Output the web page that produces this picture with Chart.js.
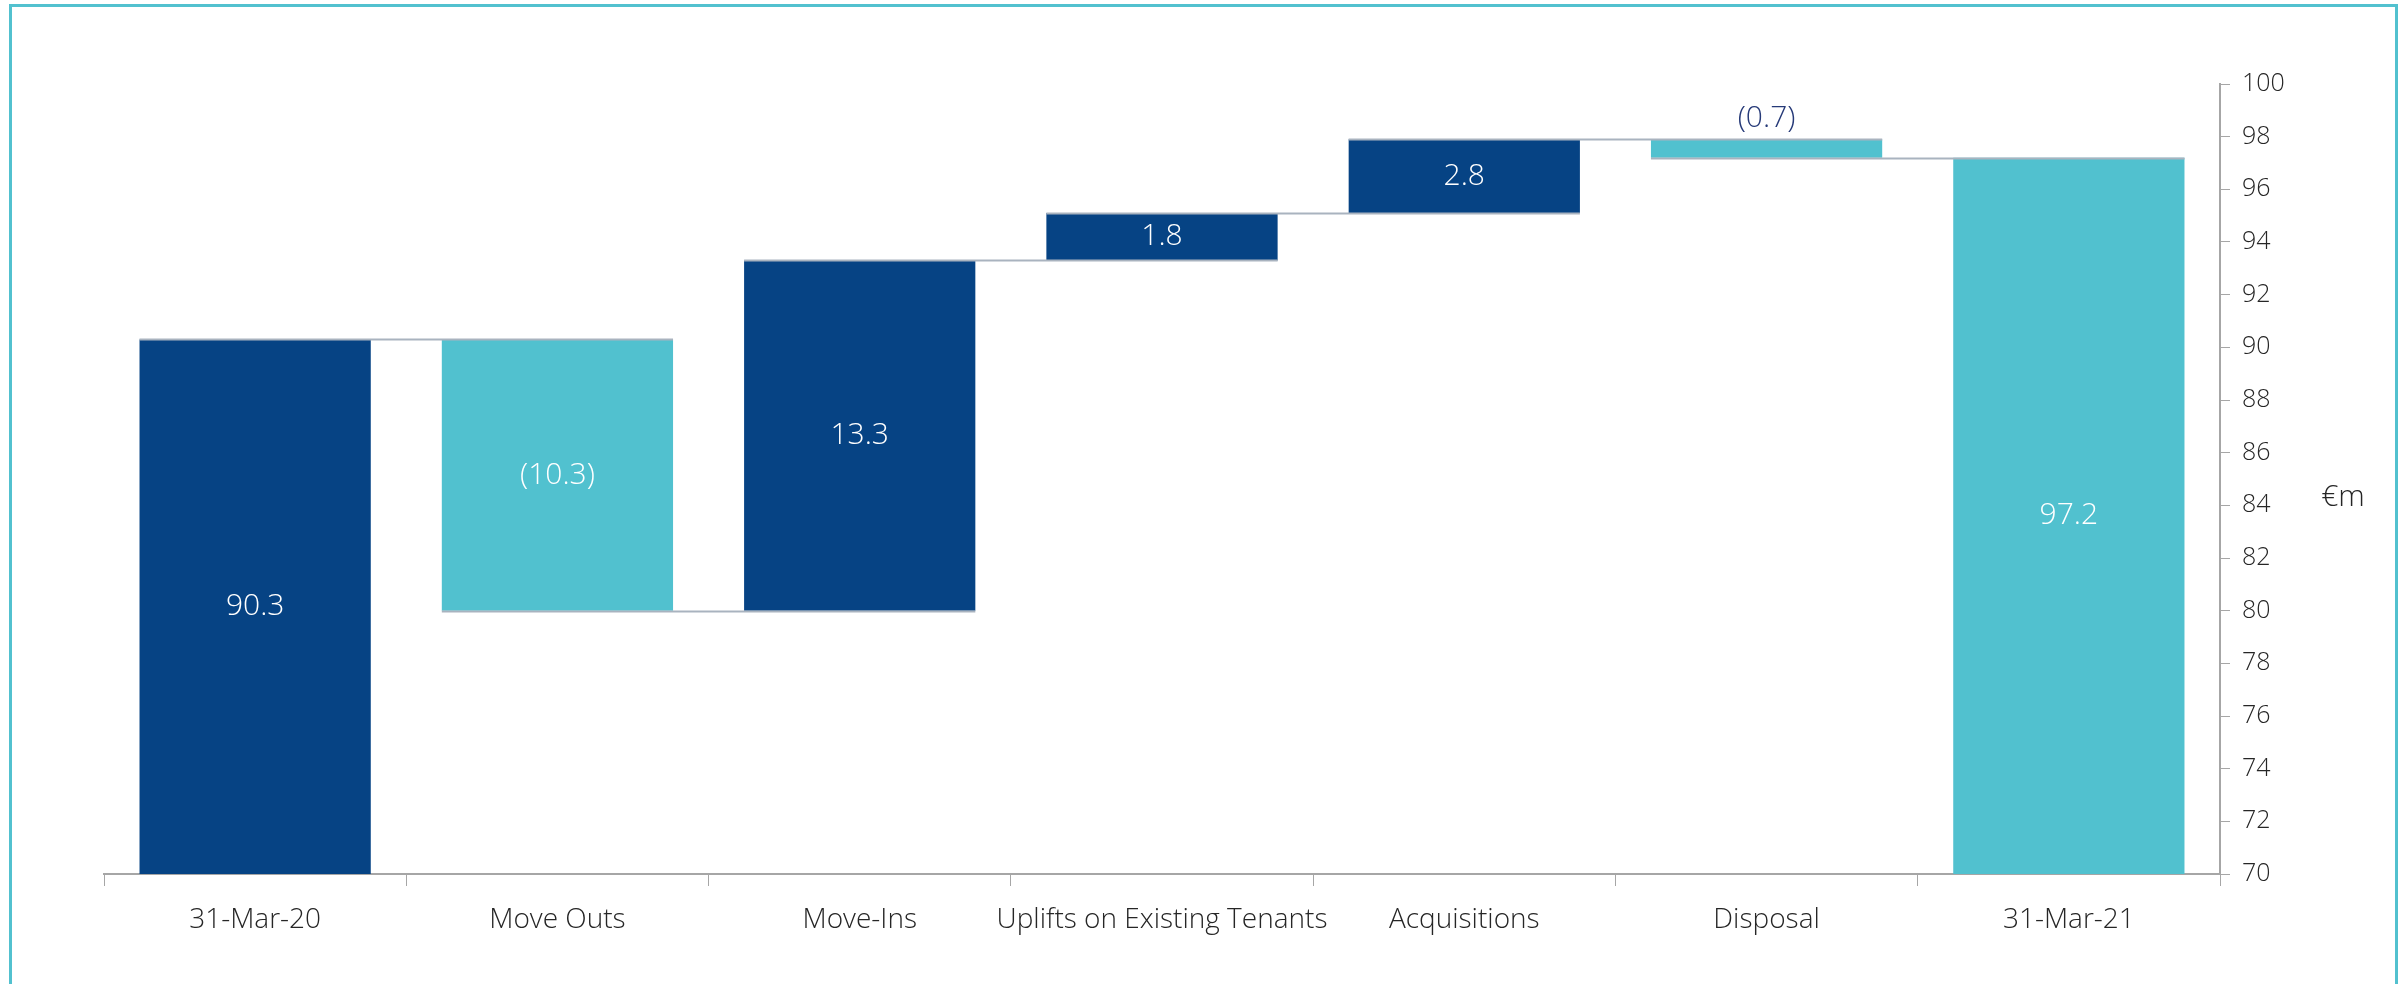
<!DOCTYPE html>
<html>
<head>
<meta charset="utf-8">
<script src="https://cdn.jsdelivr.net/npm/chart.js@4"></script>
<style>
  html, body { margin: 0; padding: 0; background: #fff; overflow: hidden; }
  #wrap { position: relative; width: 2407px; height: 984px; }
  #frame {
    position: absolute; left: 9px; top: 4px; right: 9px; bottom: -10px;
    border: 3px solid #52c1cf; pointer-events: none;
  }
</style>
</head>
<body>
<div id="wrap">
  <canvas id="bridge" width="2407" height="984"></canvas>
  <div id="frame"></div>
</div>
<script>
const categories = ['31-Mar-20', 'Move Outs', 'Move-Ins', 'Uplifts on Existing Tenants', 'Acquisitions', 'Disposal', '31-Mar-21'];
const changes = [90.3, -10.3, 13.3, 1.8, 2.8, -0.7, 97.2];
const isTotal = [true, false, false, false, false, false, true];
const valueLabels = ['90.3', '(10.3)', '13.3', '1.8', '2.8', '(0.7)', '97.2'];
const yTicks = [70, 72, 74, 76, 78, 80, 82, 84, 86, 88, 90, 92, 94, 96, 98, 100];

const NAVY = '#064384';
const TEAL = '#51c1cf';
const barColors = [NAVY, TEAL, NAVY, NAVY, NAVY, TEAL, TEAL];
const FONT = '"Open Sans", "Noto Sans", sans-serif';
const Y_MIN = yTicks[0];
const Y_MAX = yTicks[yTicks.length - 1];

// floating [from, to] ranges for the bridge
const ranges = [];
const levels = [];
let running = 0;
changes.forEach((c, i) => {
  if (isTotal[i]) {
    running = c;
    ranges.push([Y_MIN, c]);
  } else {
    ranges.push([running, running + c]);
    running = +(running + c).toFixed(1);
  }
  levels.push(running);
});

const bridgeLines = {
  id: 'bridgeLines',
  afterDatasetsDraw(chart) {
    const { ctx } = chart;
    const meta = chart.getDatasetMeta(0);
    const y = chart.scales.y;
    ctx.save();
    ctx.strokeStyle = '#a9b3bf';
    ctx.lineWidth = 2;
    for (let i = 0; i < meta.data.length - 1; i++) {
      const a = meta.data[i], b = meta.data[i + 1];
      const py = Math.round(y.getPixelForValue(levels[i])) + 0.5;
      ctx.beginPath();
      ctx.moveTo(a.x - a.width / 2, py);
      ctx.lineTo(b.x + b.width / 2, py);
      ctx.stroke();
    }

    // value labels
    ctx.font = '300 30px ' + FONT;
    ctx.textAlign = 'center';
    ctx.textBaseline = 'middle';
    meta.data.forEach((bar, i) => {
      const top = Math.min(bar.y, bar.base);
      const h = Math.abs(bar.base - bar.y);
      if (h < 34) {
        ctx.fillStyle = '#263a78';
        ctx.fillText(valueLabels[i], bar.x, top - 21);
      } else {
        ctx.fillStyle = '#ffffff';
        ctx.fillText(valueLabels[i], bar.x, top + h / 2);
      }
    });

    // unit label beside the right axis
    ctx.fillStyle = '#262626';
    ctx.font = '300 30px ' + FONT;
    ctx.fillText('€m', 2343, y.getPixelForValue(84.3));
    ctx.restore();
  }
};

new Chart(document.getElementById('bridge'), {
  type: 'bar',
  data: {
    labels: categories,
    datasets: [{
      data: ranges,
      backgroundColor: barColors,
      borderWidth: 0,
      categoryPercentage: 1,
      barPercentage: 0.765
    }]
  },
  options: {
    responsive: false,
    devicePixelRatio: 1,
    animation: false,
    layout: { padding: { left: 104, right: 0, top: 84, bottom: 0 } },
    plugins: { legend: { display: false }, tooltip: { enabled: false } },
    scales: {
      x: {
        grid: { display: true, drawOnChartArea: false, drawTicks: true, tickLength: 12, color: '#a6a6a6', offset: true },
        border: { display: true, color: '#a6a6a6', width: 2 },
        ticks: { color: '#262626', font: { family: FONT, size: 28, weight: 300 }, padding: 17, maxRotation: 0, autoSkip: false },
        afterFit(scale) { scale.height = 110; }
      },
      y: {
        position: 'right',
        min: Y_MIN,
        max: Y_MAX,
        afterBuildTicks(scale) { scale.ticks = yTicks.map(v => ({ value: v })); },
        grid: { display: true, drawOnChartArea: false, drawTicks: true, tickLength: 10, color: '#a6a6a6' },
        border: { display: true, color: '#a6a6a6', width: 2 },
        ticks: { color: '#262626', font: { family: FONT, size: 25, weight: 300 }, padding: 12 },
        afterFit(scale) { scale.width = 187; }
      }
    }
  },
  plugins: [bridgeLines]
});
</script>
</body>
</html>
